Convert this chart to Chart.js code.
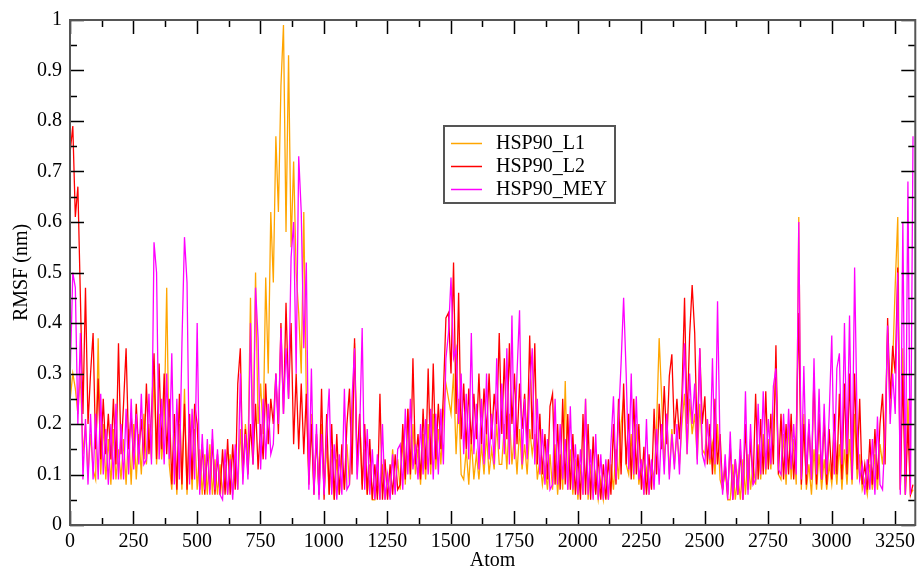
<!DOCTYPE html>
<html>
<head>
<meta charset="utf-8">
<title>RMSF</title>
<script src="https://cdn.jsdelivr.net/npm/chart.js@4.4.1/dist/chart.umd.min.js"></script>
<style>
  html, body { margin: 0; padding: 0; background: #fff; }
  #wrap { width: 920px; height: 570px; }
</style>
</head>
<body>
<div id="wrap"><canvas id="c" width="920" height="570"></canvas></div>
<script>
var atoms = Array.from({ length: 333 }, function (_, i) { return 1 + i * 10; });

var hspL1 = [
  0.25,0.30,0.27,0.22,0.30,0.14,0.20,0.10,0.18,0.11,
  0.09,0.37,0.10,0.20,0.09,0.17,0.08,0.19,0.09,0.15,
  0.09,0.17,0.08,0.19,0.08,0.20,0.09,0.18,0.10,0.22,
  0.12,0.20,0.13,0.30,0.12,0.22,0.13,0.20,0.47,0.12,
  0.07,0.18,0.06,0.20,0.07,0.27,0.06,0.18,0.07,0.19,
  0.07,0.15,0.06,0.14,0.06,0.16,0.06,0.13,0.06,0.12,
  0.06,0.12,0.06,0.14,0.06,0.13,0.07,0.19,0.09,0.20,
  0.13,0.45,0.16,0.50,0.20,0.28,0.18,0.49,0.30,0.62,
  0.48,0.77,0.62,0.87,0.99,0.58,0.93,0.55,0.72,0.50,
  0.42,0.30,0.62,0.25,0.10,0.22,0.07,0.18,0.06,0.20,
  0.06,0.16,0.06,0.15,0.05,0.13,0.06,0.14,0.07,0.16,
  0.08,0.20,0.36,0.10,0.22,0.08,0.15,0.06,0.12,0.05,
  0.05,0.10,0.05,0.12,0.05,0.09,0.06,0.15,0.07,0.13,
  0.07,0.17,0.08,0.23,0.09,0.20,0.10,0.15,0.08,0.18,
  0.09,0.20,0.10,0.22,0.11,0.19,0.12,0.22,0.28,0.25,
  0.22,0.30,0.14,0.25,0.10,0.09,0.15,0.08,0.17,0.09,
  0.14,0.09,0.16,0.10,0.18,0.10,0.15,0.11,0.20,0.12,
  0.12,0.20,0.11,0.22,0.12,0.18,0.10,0.19,0.11,0.16,
  0.10,0.19,0.14,0.18,0.09,0.13,0.08,0.12,0.07,0.14,
  0.07,0.16,0.06,0.14,0.07,0.285,0.07,0.15,0.06,0.13,
  0.05,0.12,0.06,0.25,0.05,0.12,0.06,0.10,0.05,0.09,
  0.05,0.10,0.05,0.12,0.07,0.15,0.09,0.20,0.25,0.12,
  0.10,0.18,0.09,0.20,0.08,0.12,0.06,0.11,0.06,0.12,
  0.09,0.20,0.37,0.25,0.12,0.22,0.10,0.19,0.12,0.18,
  0.12,0.20,0.26,0.14,0.25,0.18,0.22,0.13,0.24,0.15,
  0.14,0.21,0.12,0.16,0.10,0.20,0.09,0.07,0.11,0.05,
  0.05,0.12,0.05,0.10,0.05,0.13,0.06,0.14,0.07,0.12,
  0.08,0.16,0.09,0.18,0.10,0.17,0.11,0.20,0.29,0.10,
  0.09,0.18,0.08,0.20,0.09,0.17,0.08,0.61,0.07,0.22,
  0.07,0.12,0.06,0.15,0.07,0.14,0.07,0.13,0.07,0.12,
  0.08,0.14,0.08,0.16,0.07,0.15,0.08,0.17,0.08,0.22,
  0.09,0.14,0.07,0.09,0.06,0.12,0.07,0.14,0.07,0.16,
  0.12,0.20,0.38,0.22,0.32,0.475,0.61,0.07,0.35,0.06,
  0.25,0.06,0.07
];

var hspL2 = [
  0.74,0.79,0.61,0.67,0.45,0.22,0.47,0.20,0.30,0.38,
  0.15,0.29,0.13,0.25,0.14,0.22,0.13,0.25,0.12,0.36,
  0.14,0.24,0.35,0.15,0.22,0.12,0.24,0.14,0.21,0.13,
  0.28,0.14,0.22,0.34,0.13,0.32,0.15,0.30,0.14,0.25,
  0.08,0.22,0.07,0.26,0.08,0.24,0.07,0.22,0.09,0.24,
  0.20,0.07,0.16,0.06,0.15,0.07,0.17,0.06,0.14,0.06,
  0.15,0.06,0.17,0.06,0.16,0.07,0.28,0.35,0.10,0.19,
  0.10,0.20,0.12,0.24,0.11,0.20,0.13,0.28,0.16,0.25,
  0.20,0.30,0.18,0.40,0.22,0.44,0.25,0.40,0.16,0.30,
  0.15,0.28,0.14,0.26,0.08,0.20,0.06,0.18,0.06,0.27,
  0.05,0.22,0.06,0.20,0.05,0.18,0.06,0.16,0.07,0.20,
  0.27,0.10,0.37,0.12,0.22,0.07,0.20,0.06,0.17,0.05,
  0.12,0.05,0.26,0.05,0.13,0.05,0.12,0.06,0.14,0.07,
  0.08,0.20,0.09,0.23,0.10,0.33,0.12,0.18,0.09,0.23,
  0.11,0.31,0.12,0.32,0.13,0.24,0.15,0.26,0.41,0.42,
  0.30,0.52,0.22,0.46,0.17,0.28,0.15,0.27,0.16,0.26,
  0.17,0.30,0.16,0.27,0.18,0.30,0.17,0.26,0.20,0.38,
  0.18,0.33,0.17,0.36,0.20,0.30,0.16,0.28,0.19,0.26,
  0.16,0.375,0.17,0.36,0.12,0.22,0.10,0.18,0.09,0.235,
  0.26,0.08,0.20,0.07,0.25,0.08,0.22,0.07,0.18,0.06,
  0.14,0.05,0.22,0.06,0.20,0.05,0.175,0.06,0.14,0.05,
  0.12,0.05,0.13,0.06,0.20,0.08,0.25,0.10,0.28,0.12,
  0.22,0.09,0.25,0.10,0.20,0.07,0.155,0.06,0.14,0.07,
  0.23,0.10,0.24,0.15,0.275,0.16,0.295,0.338,0.18,0.25,
  0.17,0.26,0.45,0.20,0.375,0.475,0.38,0.16,0.35,0.20,
  0.255,0.12,0.20,0.10,0.25,0.12,0.18,0.07,0.12,0.06,
  0.16,0.05,0.13,0.06,0.15,0.05,0.20,0.07,0.17,0.08,
  0.26,0.09,0.21,0.10,0.265,0.11,0.22,0.12,0.356,0.10,
  0.22,0.09,0.20,0.10,0.22,0.09,0.18,0.42,0.08,0.20,
  0.08,0.20,0.09,0.30,0.08,0.22,0.09,0.21,0.08,0.19,
  0.09,0.22,0.10,0.26,0.09,0.28,0.10,0.30,0.09,0.30,
  0.11,0.25,0.08,0.12,0.07,0.17,0.08,0.19,0.09,0.20,
  0.26,0.12,0.41,0.25,0.355,0.30,0.51,0.07,0.30,0.06,
  0.20,0.06,0.08
];

var hspMEY = [
  0.30,0.50,0.47,0.20,0.38,0.09,0.21,0.08,0.22,0.09,
  0.22,0.09,0.26,0.10,0.19,0.08,0.20,0.09,0.24,0.09,
  0.20,0.09,0.23,0.10,0.25,0.11,0.22,0.12,0.26,0.12,
  0.13,0.26,0.12,0.56,0.50,0.13,0.25,0.12,0.30,0.13,
  0.34,0.08,0.25,0.09,0.36,0.57,0.48,0.08,0.23,0.09,
  0.40,0.06,0.18,0.07,0.17,0.06,0.19,0.07,0.15,0.06,
  0.05,0.15,0.06,0.13,0.05,0.16,0.07,0.30,0.08,0.18,
  0.09,0.40,0.12,0.47,0.37,0.11,0.25,0.13,0.24,0.14,
  0.16,0.30,0.20,0.39,0.22,0.35,0.25,0.53,0.60,0.30,
  0.73,0.62,0.35,0.52,0.07,0.31,0.06,0.20,0.05,0.18,
  0.06,0.18,0.27,0.06,0.16,0.05,0.14,0.06,0.27,0.07,
  0.08,0.25,0.35,0.09,0.18,0.39,0.07,0.19,0.06,0.15,
  0.05,0.14,0.05,0.20,0.05,0.10,0.05,0.14,0.06,0.15,
  0.16,0.07,0.23,0.10,0.25,0.11,0.16,0.09,0.20,0.10,
  0.21,0.10,0.23,0.09,0.22,0.10,0.23,0.12,0.33,0.38,
  0.49,0.33,0.35,0.20,0.30,0.14,0.26,0.13,0.38,0.14,
  0.24,0.11,0.25,0.12,0.30,0.13,0.22,0.12,0.33,0.15,
  0.28,0.14,0.35,0.12,0.415,0.13,0.30,0.425,0.12,0.25,
  0.13,0.27,0.35,0.12,0.25,0.10,0.19,0.08,0.17,0.07,
  0.08,0.25,0.08,0.20,0.09,0.17,0.07,0.235,0.07,0.16,
  0.06,0.15,0.06,0.25,0.06,0.15,0.05,0.18,0.05,0.14,
  0.05,0.13,0.05,0.16,0.255,0.09,0.21,0.32,0.45,0.30,
  0.11,0.30,0.10,0.255,0.09,0.13,0.06,0.21,0.06,0.13,
  0.07,0.19,0.08,0.20,0.10,0.22,0.09,0.18,0.11,0.20,
  0.10,0.23,0.36,0.14,0.30,0.20,0.28,0.12,0.35,0.14,
  0.12,0.21,0.13,0.33,0.12,0.443,0.15,0.06,0.14,0.05,
  0.185,0.05,0.13,0.06,0.17,0.05,0.265,0.06,0.20,0.08,
  0.09,0.24,0.10,0.265,0.11,0.21,0.12,0.275,0.31,0.11,
  0.10,0.22,0.10,0.23,0.11,0.20,0.10,0.60,0.09,0.315,
  0.10,0.21,0.09,0.33,0.10,0.27,0.09,0.24,0.10,0.22,
  0.375,0.10,0.31,0.34,0.12,0.40,0.14,0.415,0.09,0.51,
  0.20,0.09,0.12,0.06,0.13,0.07,0.17,0.06,0.215,0.08,
  0.07,0.18,0.395,0.20,0.30,0.22,0.50,0.06,0.60,0.06,
  0.68,0.06,0.77
];

var seriesNames = ['HSP90_L1', 'HSP90_L2', 'HSP90_MEY'];
var seriesColors = ['#ffa500', '#ff0000', '#ff00ff'];

var xTicks = [0, 250, 500, 750, 1000, 1250, 1500, 1750, 2000, 2250, 2500, 2750, 3000, 3250];
var yTicks = [0, 0.1, 0.2, 0.3, 0.4, 0.5, 0.6, 0.7, 0.8, 0.9, 1];

var SERIF = "'Liberation Serif', 'Times New Roman', serif";

function pts(vals) {
  return vals.map(function (v, i) { return { x: atoms[i], y: v }; });
}

// Grace-style frame: inward ticks on all four sides
var framePlugin = {
  id: 'frame',
  afterDatasetsDraw: function (chart) {
    var ctx = chart.ctx, a = chart.chartArea, x = chart.scales.x, y = chart.scales.y;
    ctx.save();
    ctx.strokeStyle = '#000';
    ctx.lineWidth = 1.5;
    ctx.beginPath();
    for (var v = 0; v <= x.max; v += 125) {
      var px = Math.round(x.getPixelForValue(v)) + 0.5;
      var len = v % 250 === 0 ? 14 : 7;
      ctx.moveTo(px, a.bottom); ctx.lineTo(px, a.bottom - len);
      ctx.moveTo(px, a.top); ctx.lineTo(px, a.top + len);
    }
    for (var i = 0; i <= 20; i++) {
      var py = Math.round(y.getPixelForValue(i * 0.05)) + 0.5;
      var l = i % 2 === 0 ? 14 : 7;
      ctx.moveTo(a.left, py); ctx.lineTo(a.left + l, py);
      ctx.moveTo(a.right, py); ctx.lineTo(a.right - l, py);
    }
    ctx.stroke();
    ctx.strokeStyle = '#555';
    ctx.lineWidth = 2;
    ctx.strokeRect(a.left, a.top, a.right - a.left, a.bottom - a.top);
    ctx.restore();
  }
};

// boxed legend inside the plot
var boxLegend = {
  id: 'boxLegend',
  afterDraw: function (chart) {
    var ctx = chart.ctx;
    var bx = 444, by = 126, bw = 171, bh = 77;
    ctx.save();
    ctx.fillStyle = '#fff';
    ctx.fillRect(bx, by, bw, bh);
    ctx.strokeStyle = '#555';
    ctx.lineWidth = 2;
    ctx.strokeRect(bx, by, bw, bh);
    ctx.font = '20px ' + SERIF;
    ctx.textBaseline = 'middle';
    ctx.fillStyle = '#000';
    seriesNames.forEach(function (name, i) {
      var ly = 143 + i * 23;
      ctx.strokeStyle = seriesColors[i];
      ctx.lineWidth = 1.5;
      ctx.beginPath();
      ctx.moveTo(451, ly + 0.5);
      ctx.lineTo(482, ly + 0.5);
      ctx.stroke();
      ctx.fillText(name, 496, ly + 1);
    });
    ctx.restore();
  }
};

var allVals = [hspL1, hspL2, hspMEY];

new Chart(document.getElementById('c'), {
  type: 'line',
  data: {
    datasets: allVals.map(function (vals, i) {
      return {
        label: seriesNames[i],
        data: pts(vals),
        borderColor: seriesColors[i],
        backgroundColor: seriesColors[i],
        borderWidth: 1.3,
        pointRadius: 0,
        tension: 0,
        fill: false,
        order: 3 - i
      };
    })
  },
  options: {
    responsive: false,
    animation: false,
    events: [],
    layout: { padding: { top: 19, right: 1, left: 0, bottom: 0 } },
    plugins: { legend: { display: false }, tooltip: { enabled: false } },
    scales: {
      x: {
        type: 'linear',
        min: 0,
        max: 3330,
        grid: { display: false, drawTicks: false },
        border: { display: false },
        afterBuildTicks: function (s) { s.ticks = xTicks.map(function (v) { return { value: v }; }); },
        afterFit: function (s) { s.height = 45; },
        ticks: {
          autoSkip: false,
          maxRotation: 0,
          padding: 5,
          color: '#000',
          font: { family: SERIF, size: 20 },
          callback: function (v) { return String(v); }
        },
        title: {
          display: true,
          text: 'Atom',
          color: '#000',
          font: { family: SERIF, size: 20, lineHeight: 1 },
          padding: { top: 0, bottom: -1 }
        }
      },
      y: {
        min: 0,
        max: 1,
        grid: { display: false, drawTicks: false },
        border: { display: false },
        afterBuildTicks: function (s) { s.ticks = yTicks.map(function (v) { return { value: v }; }); },
        afterFit: function (s) { s.width = 70; },
        ticks: {
          padding: 8,
          color: '#000',
          font: { family: SERIF, size: 20 },
          callback: function (v) { return String(v); }
        },
        title: {
          display: true,
          text: 'RMSF (nm)',
          color: '#000',
          font: { family: SERIF, size: 20, lineHeight: 1 },
          padding: { top: 12, bottom: 0 }
        }
      }
    }
  },
  plugins: [framePlugin, boxLegend]
});
</script>
</body>
</html>
